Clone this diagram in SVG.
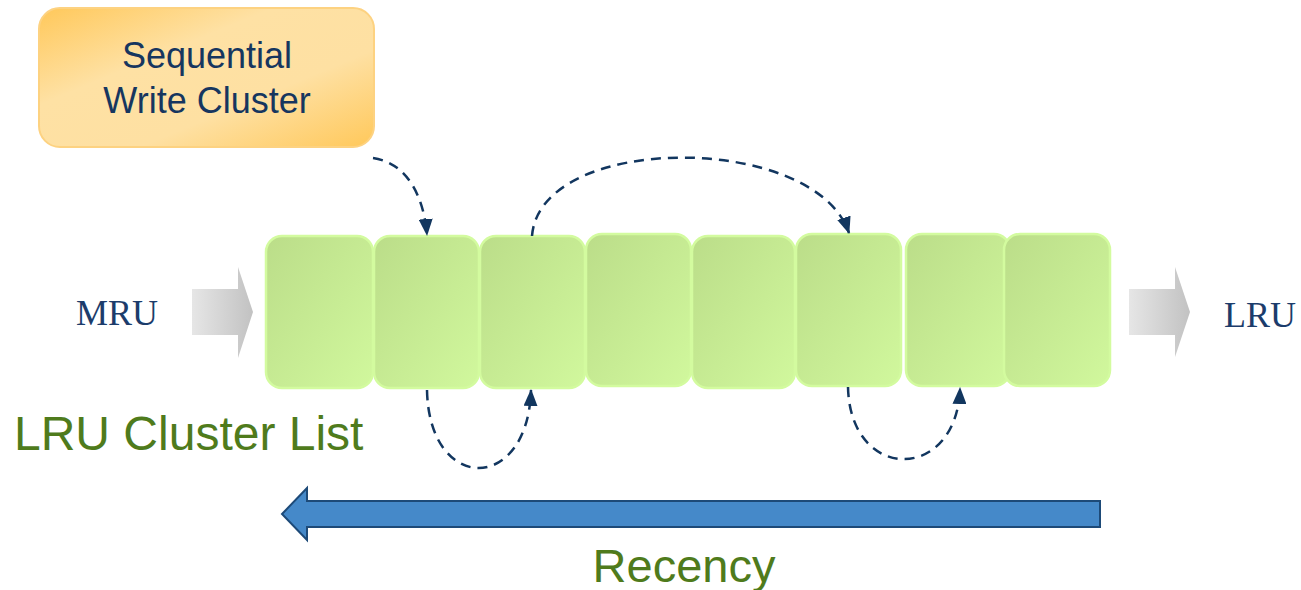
<svg xmlns="http://www.w3.org/2000/svg" width="1301" height="590" viewBox="0 0 1301 590">
  <defs>
    <linearGradient id="gBlock" x1="0" y1="0" x2="1" y2="1">
      <stop offset="0" stop-color="#bbdd89"/>
      <stop offset="1" stop-color="#d1f89d"/>
    </linearGradient>
    <linearGradient id="gOrange" x1="0" y1="0" x2="1" y2="1">
      <stop offset="0" stop-color="#ffc85a"/>
      <stop offset="0.35" stop-color="#fee1a4"/>
      <stop offset="0.65" stop-color="#fee0a2"/>
      <stop offset="1" stop-color="#ffc85a"/>
    </linearGradient>
    <linearGradient id="gGray" x1="0" y1="0" x2="1" y2="0">
      <stop offset="0" stop-color="#e6e6e6"/>
      <stop offset="1" stop-color="#c2c2c2"/>
    </linearGradient>
    <marker id="head" viewBox="0 0 17 14" refX="16" refY="7" markerWidth="17" markerHeight="14" markerUnits="userSpaceOnUse" orient="auto">
      <path d="M0,0 L17,7 L0,14 Z" fill="#12365f"/>
    </marker>
    <style>
      .blk { fill: url(#gBlock); stroke: #d3fb9f; stroke-width: 2.5; }
      .grey { fill: url(#gGray); }
      .dash { fill: none; stroke: #12365f; stroke-width: 2.5; stroke-dasharray: 10 7; marker-end: url(#head); }
      .serif { font-family: "Liberation Serif", "Times New Roman", serif; font-size: 36px; fill: #1c3c6b; }
      .sans { font-family: "Liberation Sans", Arial, sans-serif; }
    </style>
  </defs>

  <!-- source box -->
  <g id="seq-write-cluster">
    <rect x="39" y="8" width="335" height="139" rx="21" fill="url(#gOrange)" stroke="#fdd281" stroke-width="2"/>
    <text class="sans" x="207" y="68" font-size="36" fill="#16365f" text-anchor="middle">Sequential</text>
    <text class="sans" x="207" y="113" font-size="36" fill="#16365f" text-anchor="middle">Write Cluster</text>
  </g>

  <!-- MRU / LRU ends -->
  <g id="mru">
    <path class="grey" d="M192,289 H238 V267 L253,312 L238,358 V335 H192 Z"/>
    <text class="serif" x="76" y="325">MRU</text>
  </g>
  <g id="lru">
    <path class="grey" d="M1129,289 H1175 V267 L1190,312 L1175,357 V335 H1129 Z"/>
    <text class="serif" x="1224" y="327">LRU</text>
  </g>

  <!-- cluster list blocks -->
  <g id="cluster-1"><rect class="blk" x="266" y="236" width="107" height="152" rx="16"/></g>
  <g id="cluster-2"><rect class="blk" x="374" y="236" width="105" height="152" rx="16"/></g>
  <g id="cluster-3"><rect class="blk" x="480" y="236" width="105" height="152" rx="16"/></g>
  <g id="cluster-4"><rect class="blk" x="586" y="234" width="105" height="152" rx="16"/></g>
  <g id="cluster-5"><rect class="blk" x="692" y="236" width="103" height="152" rx="16"/></g>
  <g id="cluster-6"><rect class="blk" x="796" y="234" width="105" height="152" rx="16"/></g>
  <g id="cluster-7"><rect class="blk" x="906" y="234" width="104" height="152" rx="16"/></g>
  <g id="cluster-8"><rect class="blk" x="1004" y="234" width="106" height="152" rx="16"/></g>

  <g id="list-label">
    <text class="sans" x="14" y="450" font-size="48" fill="#4f7b1c">LRU Cluster List</text>
  </g>

  <!-- recency direction -->
  <g id="recency">
    <path d="M1100,501 V527 H307 V540 L282,514 L307,488 V501 Z" fill="#4589c9" stroke="#1d4a78" stroke-width="2"/>
    <text class="sans" x="684" y="582" font-size="47" fill="#4f7b1c" text-anchor="middle">Recency</text>
  </g>

  <!-- moves between positions -->
  <g id="connectors">
    <path class="dash" d="M373,158 C408,163 424,198 427,235"/>
    <path class="dash" d="M532,236 C540,132 815,132 849,233"/>
    <path class="dash" d="M427,390 C429,494 528,494 531,390"/>
    <path class="dash" d="M848,387 C850,483 957,483 960,388"/>
  </g>
</svg>
